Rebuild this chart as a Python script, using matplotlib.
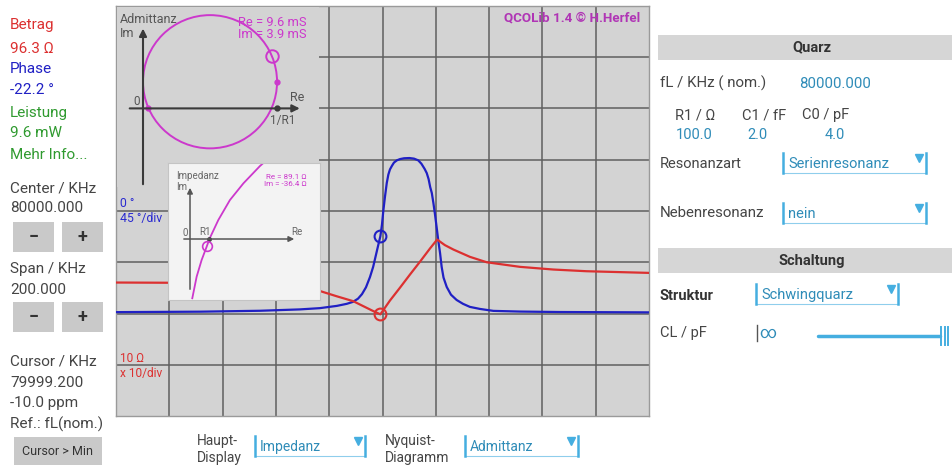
import numpy as np
import matplotlib.pyplot as plt
from matplotlib.patches import Rectangle, Circle

plt.rcParams['font.family'] = ['Roboto', 'DejaVu Sans']

W, H = 952, 465

# ---------- SWEEP ----------
f_center = 80000.0      # kHz
f_span = 200.0          # kHz
cursor_f = 79999.2      # kHz
cursor_mag = 96.3       # ohm
cursor_phase = -22.2    # deg

# |Z| (ohm) over frequency (kHz)
mag_f = [79900.0, 79920.3, 79942.8, 79965.3, 79976.5, 79982.8, 79989.0, 79992.8,
         79996.6, 79999.2, 80002.8, 80006.6, 80010.3, 80014.1, 80017.8, 80020.5,
         80023.4, 80026.6, 80032.8, 80039.1, 80051.6, 80064.1, 80076.6, 80100.0]
mag_ohm = [402, 398, 380, 320, 275, 217, 174, 139,
           111, 96.3, 179, 321, 575, 1030, 1850, 2770,
           2160, 1770, 1275, 1000, 813, 721, 668, 620]

# phase (deg) over frequency (kHz)
phase_f = [79900.0, 79931.5, 79954.0, 79969.0, 79976.5, 79982.9, 79986.6, 79988.9,
           79990.8, 79992.3, 79993.8, 79995.3, 79996.5, 79997.8, 79998.7, 79999.2,
           79999.8, 80000.3, 80000.9, 80001.6, 80002.2, 80002.8, 80003.5, 80004.3,
           80005.4, 80006.6, 80008.1, 80010.1, 80011.8, 80013.4, 80014.6, 80015.8,
           80016.6, 80017.3, 80017.9, 80018.5, 80019.1, 80019.7, 80020.3, 80020.9,
           80021.6, 80022.2, 80022.9, 80024.1, 80025.7, 80027.8, 80030.2, 80032.8,
           80036.6, 80041.6, 80051.6, 80066.6, 80100.0]
phase_deg = [-88.8, -88.4, -87.6, -86.4, -85.3, -83.3, -81.5, -79.8,
             -77.0, -73.0, -67.0, -58.0, -49.0, -36.0, -27.0, -22.2,
             -12.0, 0.0, 12.0, 24.6, 32.0, 36.5, 39.5, 42.5,
             44.5, 45.6, 46.3, 46.5, 46.0, 44.5, 41.5, 37.0,
             33.3, 28.0, 21.0, 15.8, 7.0, -3.0, -14.0, -25.4,
             -37.0, -49.1, -58.5, -66.7, -73.5, -78.1, -81.5, -84.2,
             -86.0, -87.7, -88.3, -88.7, -89.0]

# Nyquist: admittance circle (mS)
adm_center = (5.0, 2.0)
adm_radius = 5.0
adm_cursor = (9.6, 3.9)
adm_series = (10.0, 2.0)
adm_low = (0.37, 0.0)
inv_r1 = 10.0

# impedance locus (ohm)
imp_re = [12, 35, 61, 89.1, 102, 149, 210, 281, 368, 420]
imp_im = [-312, -198, -111, -36.4, 0, 100, 205, 293, 384, 430]
imp_cursor = (89.1, -36.4)
r1 = 100.0

RED = '#dc3030'
BLUE = '#2020c4'
GREEN = '#2f9a2f'
MAG = '#cc38cc'
TEAL = '#2f8cb8'
BAR = '#45aee0'
DARK = '#454545'
GRID_BG = '#d3d3d3'

fig = plt.figure(figsize=(W / 100, H / 100), dpi=100)
fig.patch.set_facecolor('white')


def px_axes(x0, y0, x1, y1, **kw):
    return fig.add_axes([x0 / W, 1 - y1 / H, (x1 - x0) / W, (y1 - y0) / H], **kw)


# ---------- MAIN DISPLAY ----------
ax = px_axes(116, 6, 649, 416, zorder=1)
ax.set_facecolor(GRID_BG)
ax.set_xlim(f_center - f_span / 2, f_center + f_span / 2)
ax.set_ylim(-180, 180)
ax.set_xticks(np.arange(79920, 80100, 20))
ax.set_yticks(np.arange(-135, 180, 45))
ax.grid(True, color='#5f5f5f', lw=1.1)
ax.tick_params(length=0, labelbottom=False, labelleft=False)
for s in ax.spines.values():
    s.set_color('#9a9a9a')
    s.set_linewidth(1.0)

ax.plot(phase_f, phase_deg, color=BLUE, lw=1.6, zorder=3)
ax.plot([cursor_f], [cursor_phase], 'o', ms=8.5, mfc='none', mec=BLUE, mew=1.5, zorder=4)

axm = ax.twinx()
axm.set_yscale('log')
axm.set_ylim(1, 1e8)
axm.set_axis_off()
axm.plot(mag_f, mag_ohm, color=RED, lw=1.6)
axm.plot([cursor_f], [cursor_mag], 'o', ms=8.5, mfc='none', mec=RED, mew=1.5)

# ---------- ADMITTANCE INSET ----------
ay = px_axes(117, 7, 319, 187, zorder=3)
ay.set_facecolor(GRID_BG)
ay.set_xlim(-1.94, 13.13)
ay.set_ylim(-5.9, 7.61)
ay.set_xticks([])
ay.set_yticks([])
for s in ay.spines.values():
    s.set_visible(False)
arr = dict(arrowstyle='-|>', color='#3a3a3a', lw=1.5, mutation_scale=11)
ay.annotate('', xy=(11.9, 0), xytext=(-1.2, 0), arrowprops=arr)
ay.annotate('', xy=(0, 6.2), xytext=(0, -5.9), arrowprops=arr)
ay.add_patch(Circle(adm_center, adm_radius, fill=False, ec=MAG, lw=1.4))
ay.plot([inv_r1], [0], 'o', ms=3.5, color='#3a3a3a')
ay.plot([adm_series[0], adm_low[0]], [adm_series[1], adm_low[1]], 'o', ms=3.5, color=MAG)
ay.plot([adm_cursor[0]], [adm_cursor[1]], 'o', ms=9, mfc='none', mec=MAG, mew=1.4)
ay.text(-1.72, 6.7, 'Admittanz', fontsize=9, color='#555555', va='center')
ay.text(-1.72, 5.6, 'Im', fontsize=9, color='#555555', va='center')
ay.text(-0.45, 0.55, '0', fontsize=8.5, color='#555555', ha='center', va='center')
ay.text(11.5, 0.82, 'Re', fontsize=9, color='#555555', ha='center', va='center')
ay.text(10.4, -0.9, '1/R1', fontsize=8.5, color='#555555', ha='center', va='center')
ay.text(12.2, 6.42, f'Re = {adm_cursor[0]} mS', fontsize=9.3, color=MAG, ha='right', va='center')
ay.text(12.2, 5.55, f'Im = {adm_cursor[1]} mS', fontsize=9.3, color=MAG, ha='right', va='center')

# ---------- IMPEDANCE INSET ----------
az = px_axes(168, 163, 320, 300, zorder=4)
az.set_facecolor('#f3f3f3')
az.set_xlim(-115.8, 684)
az.set_ylim(-321, 400)
az.set_xticks([])
az.set_yticks([])
for s in az.spines.values():
    s.set_color('#c4c4c4')
arr2 = dict(arrowstyle='-|>', color='#555555', lw=1.1, mutation_scale=8)
az.annotate('', xy=(563, 0), xytext=(-47, 0), arrowprops=arr2)
az.annotate('', xy=(0, 284), xytext=(0, -279), arrowprops=arr2)
az.plot(imp_re, imp_im, color=MAG, lw=1.3)
az.plot([r1], [0], 'o', ms=2.5, color='#444444')
az.plot([imp_cursor[0]], [imp_cursor[1]], 'o', ms=7, mfc='none', mec=MAG, mew=1.2)
az.text(-74, 332, 'Impedanz', fontsize=7, color='#666666', va='center')
az.text(-74, 274, 'Im', fontsize=7, color='#666666', va='center')
az.text(-26, 32, '0', fontsize=7, color='#666666', ha='center', va='center')
az.text(79, 37, 'R1', fontsize=7, color='#666666', ha='center', va='center')
az.text(560, 37, 'Re', fontsize=7, color='#666666', ha='center', va='center')
az.text(616, 326, f'Re = {imp_cursor[0]} Ω', fontsize=5.8, color=MAG, ha='right', va='center')
az.text(616, 288, f'Im = {imp_cursor[1]} Ω', fontsize=5.8, color=MAG, ha='right', va='center')

# ---------- UI LAYER (pixel coordinates) ----------
ui = fig.add_axes([0, 0, 1, 1], zorder=10)
ui.set_xlim(0, W)
ui.set_ylim(H, 0)
ui.axis('off')
ui.patch.set_visible(False)


def txt(x, y, s, size=10.5, color=DARK, **kw):
    ui.text(x, y, s, fontsize=size, color=color, va='baseline', **kw)


def button(x0, y0, x1, y1, label, size=13, weight='bold'):
    ui.add_patch(Rectangle((x0, y0), x1 - x0, y1 - y0, color='#c9c9c9', lw=0))
    ui.text((x0 + x1) / 2, (y0 + y1) / 2, label, fontsize=size, color='#333333',
            ha='center', va='center', weight=weight)


def dropdown(x0, x1, y0, y1, label, size=10.5):
    ui.plot([x0, x0], [y0, y1], color=BAR, lw=1.8)
    ui.plot([x1, x1], [y0, y1], color=BAR, lw=1.8)
    ui.plot([x0, x1], [y1, y1], color=BAR, lw=0.8, alpha=0.6)
    ui.plot([x1 - 7], [y0 + 5], marker='v', ms=6, color=BAR)
    ui.text(x0 + 5, y1 - 5, label, fontsize=size, color=TEAL, va='baseline')


def header(y0, y1, label):
    ui.add_patch(Rectangle((658, y0), W - 658, y1 - y0, color='#d6d6d6', lw=0))
    ui.text(812, (y0 + y1) / 2, label, fontsize=10.5, weight='bold', color='#333333',
            ha='center', va='center')


# left panel
LS = 11
txt(10, 29, 'Betrag', size=LS, color=RED)
txt(10, 53, f'{cursor_mag} Ω', size=LS, color=RED)
txt(10, 73, 'Phase', size=LS, color=BLUE)
txt(10, 94, f'{cursor_phase} °', size=LS, color=BLUE)
txt(10, 117, 'Leistung', size=LS, color=GREEN)
txt(10, 137, '9.6 mW', size=LS, color=GREEN)
txt(10, 159, 'Mehr Info...', size=LS, color=GREEN)
txt(10, 192, 'Center / KHz', size=LS)
txt(10, 212, f'{f_center:.3f}', size=LS)
button(13, 222, 54, 252, '−')
button(62, 222, 103, 252, '+')
txt(10, 273, 'Span / KHz', size=LS)
txt(10, 294, f'{f_span:.3f}', size=LS)
button(13, 302, 54, 332, '−')
button(62, 302, 103, 332, '+')
txt(10, 365, 'Cursor / KHz', size=LS)
txt(10, 387, f'{cursor_f:.3f}', size=LS)
txt(10, 407, '-10.0 ppm', size=LS)
txt(10, 429, 'Ref.: fL(nom.)', size=LS)
button(14, 437, 102, 466, 'Cursor > Min', size=9, weight='normal')

# labels inside the display
txt(120, 207, '0 °', size=8.8, color='#2a2ad0')
txt(120, 222, '45 °/div', size=8.8, color='#2a2ad0')
txt(120, 362, '10 Ω', size=8.6, color=RED)
txt(120, 377, 'x 10/div', size=8.6, color=RED)
txt(640, 21, 'QCOLib 1.4 © H.Herfel', size=9.6, color='#b035b5', ha='right', weight='bold')

# right panel
header(35, 60, 'Quarz')
txt(660, 88, 'fL / KHz ( nom.)', size=10.8)
txt(799, 88, '80000.000', size=10.8, color=TEAL)
txt(675, 119, 'R1 / Ω')
txt(742, 119, 'C1 / fF')
txt(802, 119, 'C0 / pF')
txt(676, 139, '100.0', color=TEAL)
txt(747, 139, '2.0', color=TEAL)
txt(825, 139, '4.0', color=TEAL)
txt(660, 168, 'Resonanzart')
dropdown(783, 926, 153, 173, 'Serienresonanz')
txt(660, 217, 'Nebenresonanz', size=10.8)
dropdown(783, 926, 203, 223, 'nein')

header(248, 273, 'Schaltung')
txt(660, 300, 'Struktur', weight='bold', color='#333333')
dropdown(756, 898, 284, 304, 'Schwingquarz')
txt(660, 337, 'CL / pF')
ui.plot([757, 757], [325, 341], color='#555555', lw=1.0)
txt(759, 338, '∞', size=12, color=TEAL)
ui.plot([818, 940], [336, 336], color=BAR, lw=2.5, solid_capstyle='round')
for xb in (941, 944.5, 948):
    ui.plot([xb, xb], [327, 345], color=BAR, lw=1.4)

# bottom selectors
txt(197, 445, 'Haupt-', size=10)
txt(197, 462, 'Display', size=10)
dropdown(255, 365, 436, 456, 'Impedanz', size=10)
txt(385, 445, 'Nyquist-', size=10)
txt(385, 462, 'Diagramm', size=10)
dropdown(465, 578, 436, 456, 'Admittanz', size=10)

fig.savefig('out.png', dpi=100, facecolor='white')
